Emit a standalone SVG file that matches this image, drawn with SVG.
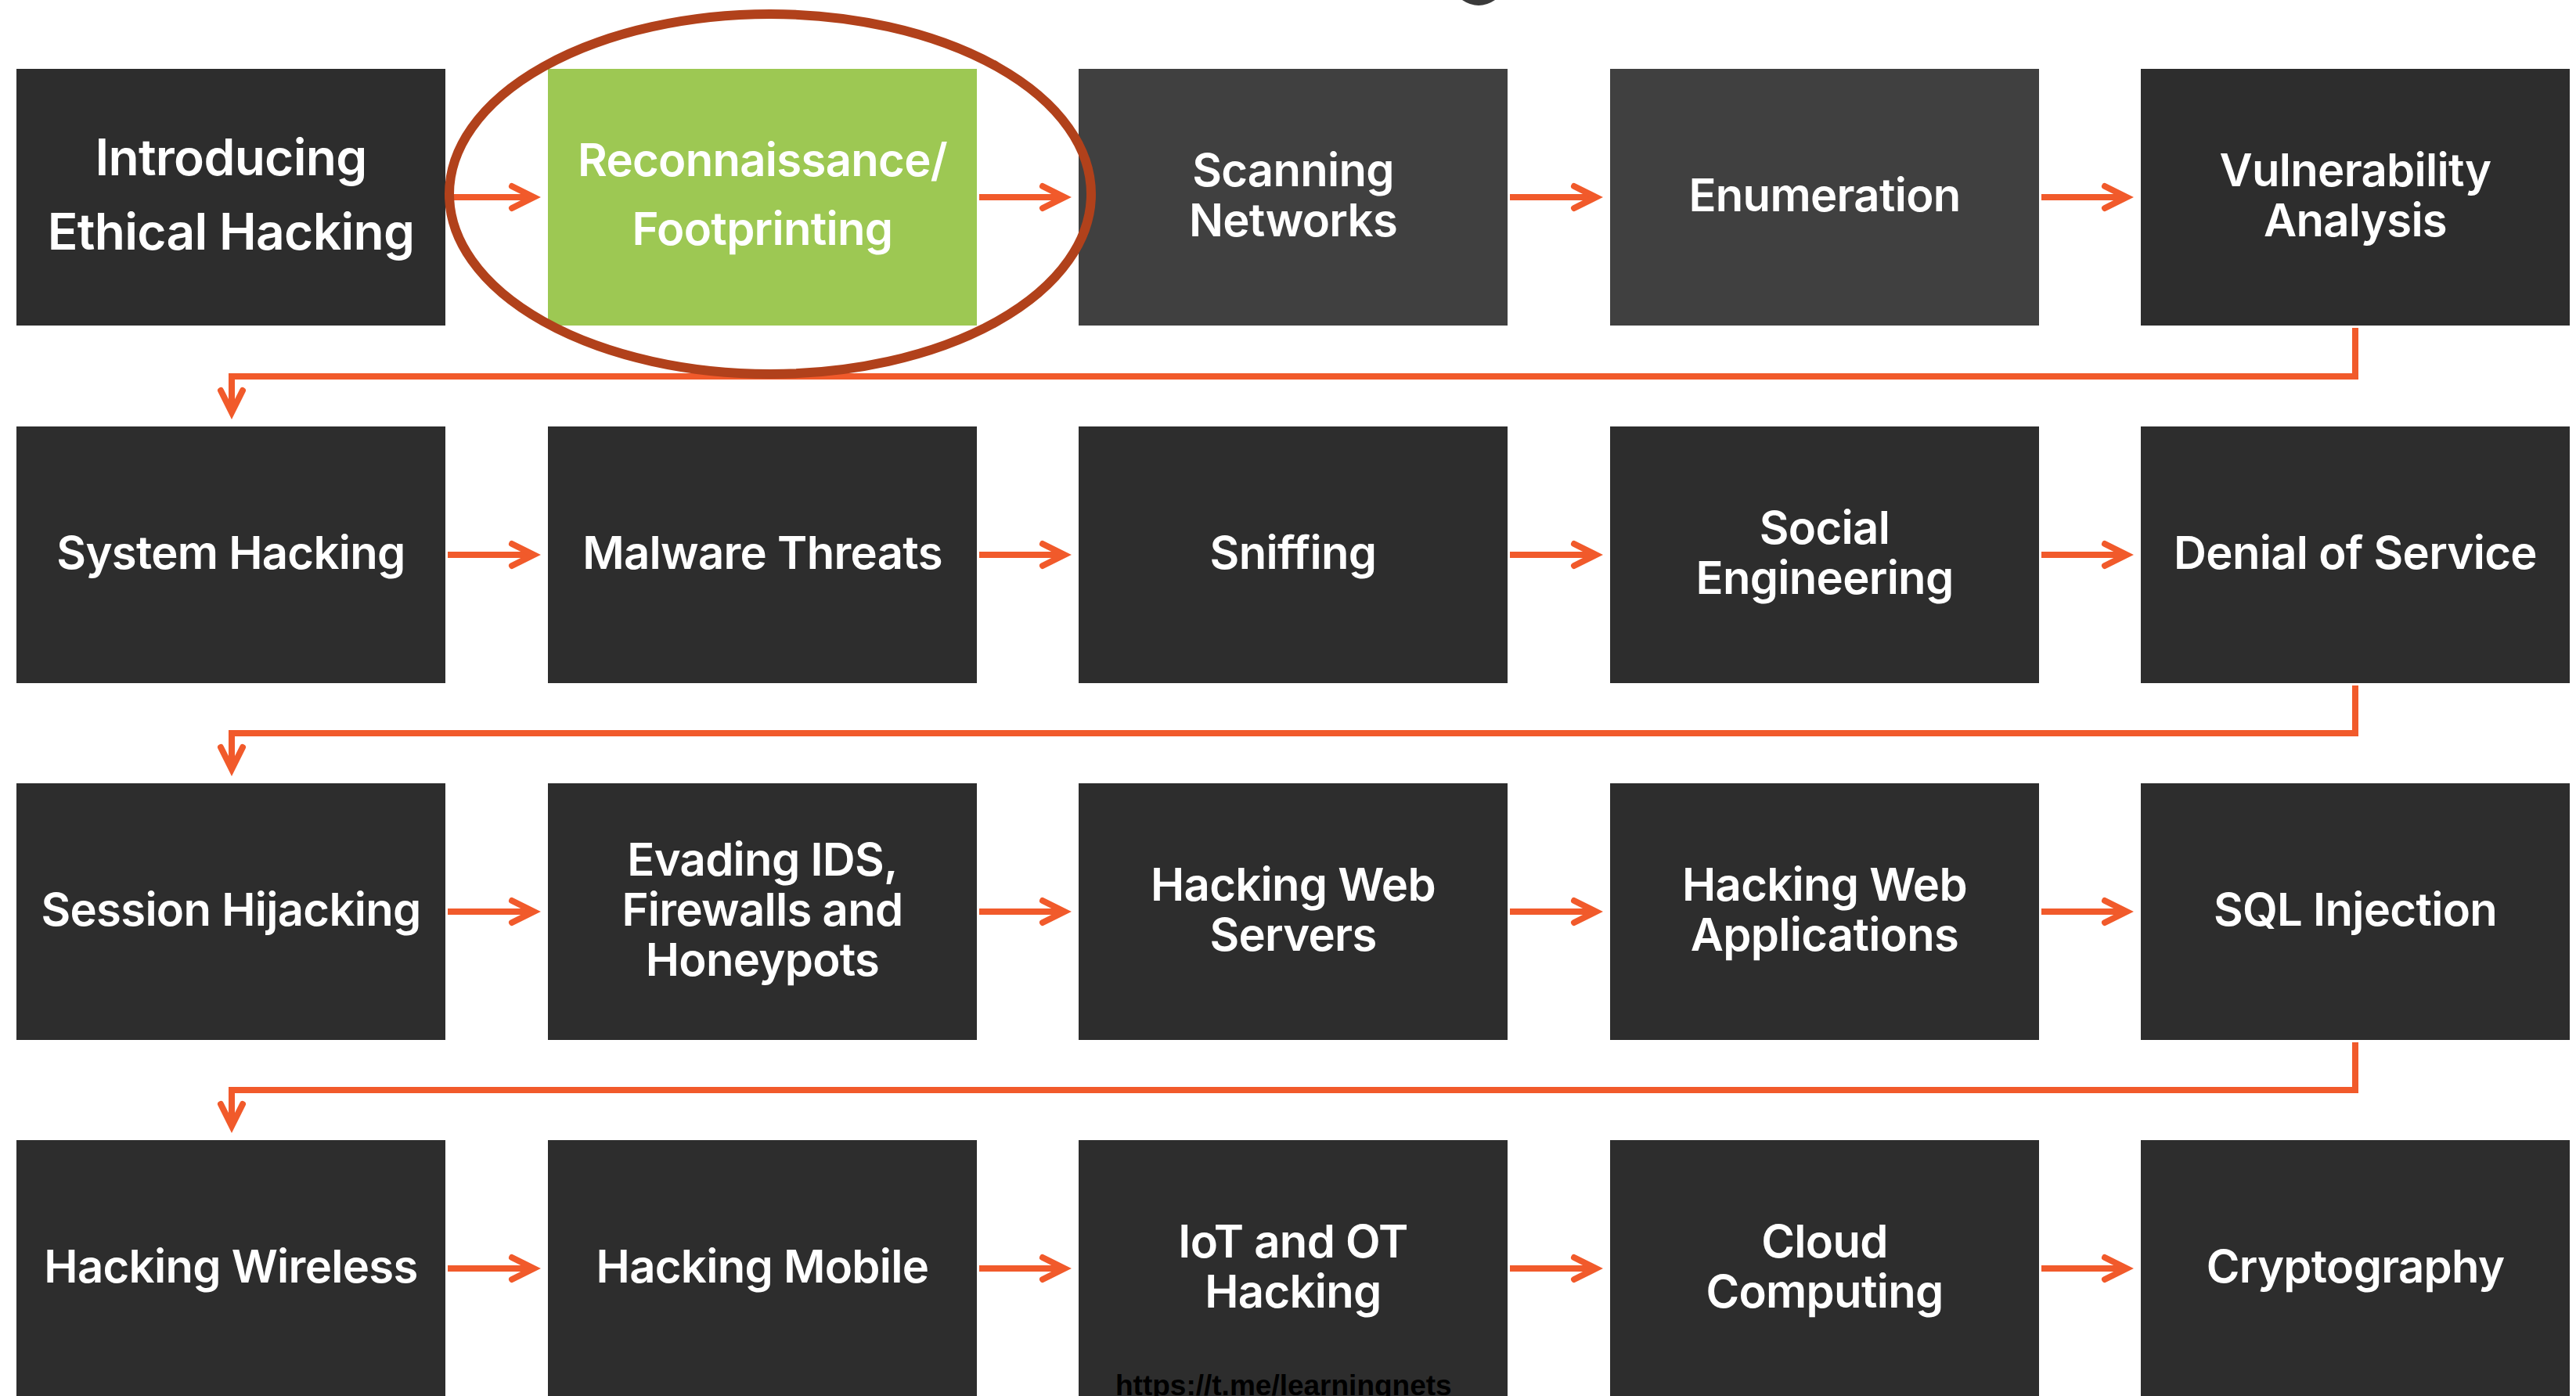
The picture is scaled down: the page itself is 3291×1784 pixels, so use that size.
<svg xmlns="http://www.w3.org/2000/svg" width="3291" height="1784" viewBox="0 0 3291 1784">
  <defs>
    <style>
      .box { fill: #2D2D2D; }
      .box.mid { fill: #404040; }
      .box.hot { fill: #9DC853; }
      .lbl { fill: #FFFFFF; font-family: Inter, "Noto Sans", "Liberation Sans", sans-serif; font-weight: 600; font-size: 58px; letter-spacing: -0.7px; text-anchor: middle; }
      .lbl.big { font-size: 64px; }
      .flow { fill: none; stroke: #F15A2B; stroke-width: 8; stroke-linecap: butt; stroke-linejoin: miter; }
      .ring { fill: none; stroke: #B1411B; stroke-width: 12; }
      .wm { fill: #000000; font-family: "Liberation Sans", Arial, sans-serif; font-weight: 700; font-size: 37px; }
    </style>
    <marker id="head" markerUnits="userSpaceOnUse" viewBox="-40 -24 56 48" refX="0" refY="0" markerWidth="56" markerHeight="48" orient="auto" overflow="visible">
      <path d="M-28,-14 L0,0 L-28,14" fill="none" stroke="#F15A2B" stroke-width="8" stroke-linecap="round" stroke-linejoin="miter"/>
    </marker>
  </defs>

  <rect width="3291" height="1784" fill="#FFFFFF"/>

  <!-- descender of the clipped heading above the grid -->
  <path d="M1868,0 Q1889,14 1910,0 Z" fill="#3A3A3A"/>

  <!-- row 1 -->
  <g id="n-intro">
    <rect class="box" x="21" y="88" width="548" height="328"/>
    <text class="lbl big" x="295" y="224">Introducing</text>
    <text class="lbl big" x="295" y="319">Ethical Hacking</text>
  </g>
  <g id="n-recon">
    <rect class="box hot" x="700" y="88" width="548" height="328"/>
    <text class="lbl" x="974" y="225">Reconnaissance/</text>
    <text class="lbl" x="974" y="313">Footprinting</text>
  </g>
  <g id="n-scanning">
    <rect class="box mid" x="1378" y="88" width="548" height="328"/>
    <text class="lbl" x="1652" y="238">Scanning</text>
    <text class="lbl" x="1652" y="302">Networks</text>
  </g>
  <g id="n-enum">
    <rect class="box mid" x="2057" y="88" width="548" height="328"/>
    <text class="lbl" x="2331" y="270">Enumeration</text>
  </g>
  <g id="n-vuln">
    <rect class="box" x="2735" y="88" width="548" height="328"/>
    <text class="lbl" x="3009" y="238">Vulnerability</text>
    <text class="lbl" x="3009" y="302">Analysis</text>
  </g>

  <!-- row 2 -->
  <g id="n-system">
    <rect class="box" x="21" y="545" width="548" height="328"/>
    <text class="lbl" x="295" y="727">System Hacking</text>
  </g>
  <g id="n-malware">
    <rect class="box" x="700" y="545" width="548" height="328"/>
    <text class="lbl" x="974" y="727">Malware Threats</text>
  </g>
  <g id="n-sniffing">
    <rect class="box" x="1378" y="545" width="548" height="328"/>
    <text class="lbl" x="1652" y="727">Sniffing</text>
  </g>
  <g id="n-social">
    <rect class="box" x="2057" y="545" width="548" height="328"/>
    <text class="lbl" x="2331" y="695">Social</text>
    <text class="lbl" x="2331" y="759">Engineering</text>
  </g>
  <g id="n-dos">
    <rect class="box" x="2735" y="545" width="548" height="328"/>
    <text class="lbl" x="3009" y="727">Denial of Service</text>
  </g>

  <!-- row 3 -->
  <g id="n-session">
    <rect class="box" x="21" y="1001" width="548" height="328"/>
    <text class="lbl" x="295" y="1183">Session Hijacking</text>
  </g>
  <g id="n-evading">
    <rect class="box" x="700" y="1001" width="548" height="328"/>
    <text class="lbl" x="974" y="1119">Evading IDS,</text>
    <text class="lbl" x="974" y="1183">Firewalls and</text>
    <text class="lbl" x="974" y="1247">Honeypots</text>
  </g>
  <g id="n-webservers">
    <rect class="box" x="1378" y="1001" width="548" height="328"/>
    <text class="lbl" x="1652" y="1151">Hacking Web</text>
    <text class="lbl" x="1652" y="1215">Servers</text>
  </g>
  <g id="n-webapps">
    <rect class="box" x="2057" y="1001" width="548" height="328"/>
    <text class="lbl" x="2331" y="1151">Hacking Web</text>
    <text class="lbl" x="2331" y="1215">Applications</text>
  </g>
  <g id="n-sqli">
    <rect class="box" x="2735" y="1001" width="548" height="328"/>
    <text class="lbl" x="3009" y="1183">SQL Injection</text>
  </g>

  <!-- row 4 -->
  <g id="n-wireless">
    <rect class="box" x="21" y="1457" width="548" height="328"/>
    <text class="lbl" x="295" y="1639">Hacking Wireless</text>
  </g>
  <g id="n-mobile">
    <rect class="box" x="700" y="1457" width="548" height="328"/>
    <text class="lbl" x="974" y="1639">Hacking Mobile</text>
  </g>
  <g id="n-iot">
    <rect class="box" x="1378" y="1457" width="548" height="328"/>
    <text class="lbl" x="1652" y="1607">IoT and OT</text>
    <text class="lbl" x="1652" y="1671">Hacking</text>
    <text class="wm" x="1425" y="1783">https://t.me/learningnets</text>
  </g>
  <g id="n-cloud">
    <rect class="box" x="2057" y="1457" width="548" height="328"/>
    <text class="lbl" x="2331" y="1607">Cloud</text>
    <text class="lbl" x="2331" y="1671">Computing</text>
  </g>
  <g id="n-crypto">
    <rect class="box" x="2735" y="1457" width="548" height="328"/>
    <text class="lbl" x="3009" y="1639">Cryptography</text>
  </g>

  <!-- connectors -->
  <g id="connectors">
    <!-- row 1 -->
    <path class="flow" marker-end="url(#head)" d="M572,252 H682"/>
    <path class="flow" marker-end="url(#head)" d="M1251,252 H1360"/>
    <path class="flow" marker-end="url(#head)" d="M1929,252 H2039"/>
    <path class="flow" marker-end="url(#head)" d="M2608,252 H2717"/>
    <!-- row 2 -->
    <path class="flow" marker-end="url(#head)" d="M572,709 H682"/>
    <path class="flow" marker-end="url(#head)" d="M1251,709 H1360"/>
    <path class="flow" marker-end="url(#head)" d="M1929,709 H2039"/>
    <path class="flow" marker-end="url(#head)" d="M2608,709 H2717"/>
    <!-- row 3 -->
    <path class="flow" marker-end="url(#head)" d="M572,1165 H682"/>
    <path class="flow" marker-end="url(#head)" d="M1251,1165 H1360"/>
    <path class="flow" marker-end="url(#head)" d="M1929,1165 H2039"/>
    <path class="flow" marker-end="url(#head)" d="M2608,1165 H2717"/>
    <!-- row 4 -->
    <path class="flow" marker-end="url(#head)" d="M572,1621 H682"/>
    <path class="flow" marker-end="url(#head)" d="M1251,1621 H1360"/>
    <path class="flow" marker-end="url(#head)" d="M1929,1621 H2039"/>
    <path class="flow" marker-end="url(#head)" d="M2608,1621 H2717"/>
    <!-- row wraps -->
    <path class="flow" marker-end="url(#head)" d="M3009,419 V481 H296 V527"/>
    <path class="flow" marker-end="url(#head)" d="M3009,876 V937 H296 V983"/>
    <path class="flow" marker-end="url(#head)" d="M3009,1332 V1393 H296 V1439"/>
  </g>

  <!-- highlight ring around the current module -->
  <ellipse class="ring" cx="984" cy="248" rx="410" ry="230"/>
</svg>
